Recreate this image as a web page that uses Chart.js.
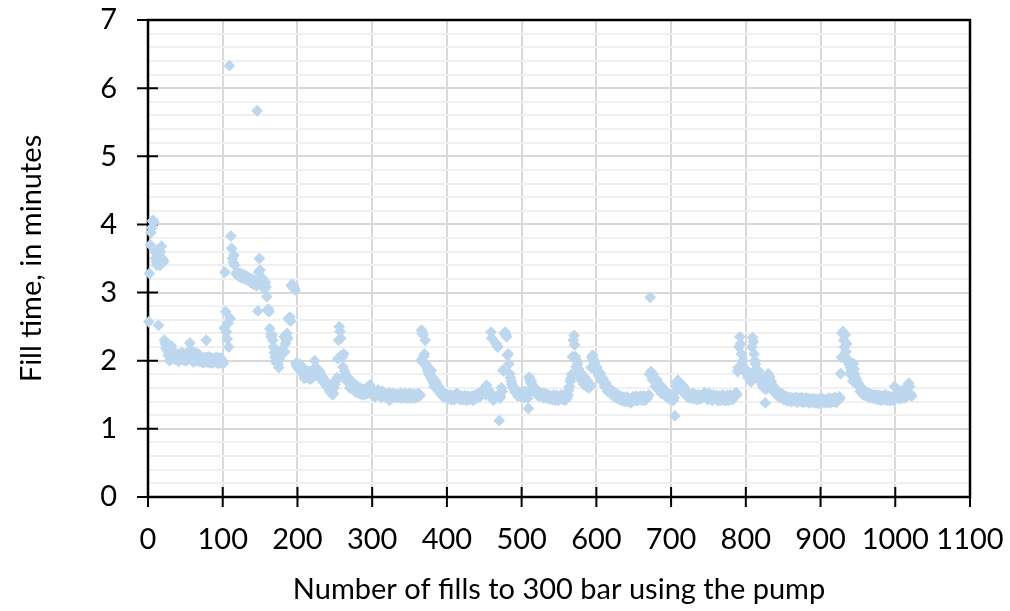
<!DOCTYPE html>
<html>
<head>
<meta charset="utf-8">
<script src="https://cdn.jsdelivr.net/npm/chart.js@4"></script>
<style>
  html, body { margin: 0; padding: 0; background: #fff; }
</style>
</head>
<body>
<canvas id="fillChart" width="1010" height="611"></canvas>
<script>
// fill number -> fill time (minutes); one line per pump session
const fills = [
  1,2,3,4,5,6,7,8,9,10,11,12,12,13,14,15,16,17,18,19,20,21,
  22,23,24,25,26,28,30,31,32,34,35,36,38,40,42,44,46,48,50,52,54,56,57,58,60,62,64,66,68,70,72,74,76,78,79,80,82,84,86,88,90,92,94,96,98,100,101,
  27,29,33,37,41,45,49,53,59,61,63,65,67,69,71,73,75,77,81,83,85,87,89,91,93,95,97,99,
  102,103,104,105,106,107,108,109,110,111,112,113,114,115,116,118,120,122,124,126,128,130,132,134,136,138,140,142,144,146,147,148,149,150,151,152,153,154,155,156,157,158,159,160,161,162,
  119,121,123,125,127,129,131,133,135,137,139,141,143,145,
  163,164,165,166,167,168,169,170,171,172,173,174,175,176,177,178,179,180,181,182,183,184,185,186,187,188,189,190,191,192,193,194,195,196,197,198,199,200,
  201,202,204,205,206,208,210,212,213,214,216,218,220,222,223,224,226,228,230,232,234,236,238,240,242,244,246,247,248,249,250,251,252,253,
  203,207,209,211,215,217,219,221,225,227,229,231,233,235,237,239,241,243,245,
  254,255,256,257,258,259,260,261,262,263,264,265,267,269,271,273,275,277,279,281,283,285,287,289,291,293,295,297,299,301,
  266,268,270,272,274,276,278,280,282,284,286,288,290,292,294,296,298,300,
  303,305,307,309,311,313,315,317,319,321,323,325,327,329,331,333,335,337,339,341,343,345,347,349,351,353,355,357,359,361,363,364,
  302,304,306,308,310,312,314,316,318,320,322,324,326,328,330,332,334,336,338,340,342,344,346,348,350,352,354,356,358,360,362,
  365,366,367,368,369,370,371,372,373,374,375,376,377,378,379,380,382,384,386,388,390,392,394,395,397,399,
  381,383,385,387,389,391,393,396,398,
  401,403,405,407,409,411,413,415,417,419,421,423,425,427,429,431,433,435,437,439,441,443,445,447,449,451,453,455,457,
  400,402,404,406,408,410,412,414,416,418,420,422,424,426,428,430,432,434,436,438,440,442,444,446,448,450,452,454,456,
  458,459,460,461,462,463,464,465,466,467,468,469,470,471,472,473,474,475,476,477,478,479,480,481,482,483,484,485,486,487,488,490,492,494,496,498,500,
  489,491,493,495,497,499,
  502,504,506,508,509,510,511,512,514,516,518,520,522,524,526,528,530,532,534,536,538,540,542,544,546,548,550,552,554,556,558,560,562,563,
  501,503,505,507,513,515,517,519,521,523,525,527,529,531,533,535,537,539,541,543,545,547,549,551,553,555,557,559,561,
  564,565,566,567,568,569,570,571,572,573,574,575,576,577,578,580,582,584,586,587,589,591,593,594,595,596,597,598,600,
  579,581,583,585,588,590,592,599,
  602,604,606,608,610,612,614,616,618,620,622,624,626,628,630,632,634,636,638,640,642,644,646,648,650,652,654,656,658,660,662,664,666,668,
  601,603,605,607,609,611,613,615,617,619,621,623,625,627,629,631,633,635,637,639,641,643,645,647,649,651,653,655,657,659,661,663,665,667,669,
  670,671,672,673,674,675,676,677,678,680,682,684,686,688,690,692,694,696,698,700,702,704,705,706,707,708,709,710,711,712,714,716,718,720,722,724,726,728,730,732,734,736,738,740,
  679,681,683,685,687,689,691,693,695,697,699,701,703,713,715,717,719,721,723,725,727,729,731,733,735,737,739,
  742,744,746,748,750,752,754,756,758,760,762,764,766,768,770,772,774,776,778,780,782,784,786,788,
  741,743,745,747,749,751,753,755,757,759,761,763,765,767,769,771,773,775,777,779,781,783,785,787,
  789,790,791,792,793,794,795,796,797,798,800,802,804,806,807,808,809,810,811,812,813,814,816,818,820,822,823,824,826,827,828,830,832,834,836,838,840,842,844,846,848,
  799,801,803,805,815,817,819,821,825,829,831,833,835,837,839,841,843,845,847,849,
  850,852,854,856,858,860,862,864,866,868,870,872,874,876,878,880,882,884,886,888,890,892,894,896,898,900,902,904,906,908,910,912,914,916,918,920,922,924,926,
  851,853,855,857,859,861,863,865,867,869,871,873,875,877,879,881,883,885,887,889,891,893,895,897,899,901,903,905,907,909,911,913,915,917,919,921,923,925,
  927,928,929,930,931,932,933,934,935,936,937,938,939,940,941,942,943,944,945,946,947,948,950,952,954,956,958,960,962,964,966,968,970,972,974,976,978,980,982,984,986,988,990,992,994,996,998,999,1000,1002,1004,1006,1008,1010,1012,1014,1016,1018,1019,1020,1021,1022,
  949,951,953,955,957,959,961,963,965,967,969,971,973,975,977,979,981,983,985,987,989,991,993,995,997,1001,1003,1005,1007,1009,1011,1013,1015,1017
];

const minutes = [
  2.57,3.28,3.7,3.88,3.95,4.05,4.06,4.03,3.6,3.5,3.45,3.4,3.62,3.55,2.52,3.45,3.4,3.6,3.68,3.5,3.48,3.45,
  2.3,2.25,2.18,2.22,2.15,2.12,2.2,2.22,2.1,2.05,2.08,2.02,2.06,2.1,2.04,2.07,2.02,2.1,2.05,2.0,2.08,2.26,2.12,2.06,2.02,2.1,2.05,2.0,2.07,2.03,1.98,2.04,2.0,2.3,2.02,1.98,2.03,2.0,1.97,2.02,2.04,1.98,1.96,2.0,1.97,2.0,1.96,
  2.08,2.0,2.14,2.1,1.99,2.12,2.0,2.12,2.14,1.98,2.12,2.08,2.1,1.99,2.06,2.02,1.97,2.05,2.06,1.97,2.04,2.0,1.98,1.99,2.05,2.02,2.04,1.99,
  2.48,3.3,2.72,2.42,2.32,2.55,2.2,6.33,2.62,3.83,3.65,3.5,3.44,3.55,3.4,3.27,3.28,3.25,3.26,3.24,3.23,3.22,3.2,3.2,3.18,3.17,3.15,3.16,3.12,5.67,2.73,3.3,3.5,3.33,3.2,3.15,3.1,3.2,3.12,3.05,3.15,3.08,2.94,2.74,2.76,2.72,
  3.3,3.24,3.29,3.22,3.27,3.2,3.25,3.18,3.22,3.15,3.2,3.12,3.18,3.1,
  2.47,2.4,2.35,2.38,2.3,2.2,2.12,2.05,1.98,2.15,2.1,1.95,1.9,2.02,2.12,2.15,2.1,2.14,2.12,2.35,2.13,2.25,2.3,2.4,2.33,2.62,2.6,2.64,2.58,3.1,3.12,3.11,3.08,3.05,3.04,1.96,1.92,1.95,
  1.9,1.88,1.85,1.92,1.82,1.8,1.78,1.76,1.85,1.8,1.73,1.78,1.82,1.87,2.0,1.9,1.85,1.82,1.84,1.78,1.75,1.72,1.67,1.64,1.6,1.58,1.55,1.5,1.52,1.6,1.65,1.7,1.72,1.75,
  1.95,1.88,1.74,1.84,1.76,1.84,1.74,1.8,1.78,1.88,1.77,1.8,1.72,1.68,1.7,1.62,1.66,1.55,1.6,
  2.03,2.3,2.5,2.43,2.33,2.08,2.05,1.91,2.1,1.85,1.8,1.76,1.72,1.68,1.65,1.64,1.62,1.6,1.58,1.6,1.56,1.55,1.52,1.55,1.58,1.6,1.62,1.64,1.55,1.52,
  1.7,1.75,1.6,1.7,1.58,1.66,1.54,1.63,1.52,1.6,1.5,1.58,1.5,1.54,1.52,1.57,1.6,1.5,
  1.5,1.53,1.55,1.5,1.48,1.52,1.5,1.47,1.49,1.52,1.42,1.48,1.5,1.46,1.49,1.47,1.5,1.47,1.45,1.48,1.5,1.47,1.49,1.46,1.48,1.5,1.47,1.45,1.49,1.47,1.48,1.5,
  1.55,1.47,1.5,1.57,1.52,1.46,1.55,1.52,1.5,1.46,1.5,1.52,1.45,1.52,1.48,1.51,1.46,1.49,1.52,1.5,1.46,1.52,1.45,1.5,1.52,1.45,1.49,1.51,1.47,1.5,1.52,
  2.0,2.45,2.42,2.38,2.06,2.1,2.3,1.95,1.9,1.85,1.88,1.8,1.82,1.76,1.86,1.72,1.68,1.65,1.66,1.6,1.57,1.53,1.5,1.47,1.48,1.46,
  1.75,1.62,1.7,1.58,1.62,1.52,1.56,1.52,1.5,
  1.45,1.48,1.46,1.47,1.45,1.48,1.52,1.49,1.47,1.46,1.45,1.47,1.45,1.46,1.44,1.46,1.45,1.42,1.46,1.48,1.47,1.5,1.52,1.55,1.58,1.6,1.64,1.58,1.55,
  1.5,1.44,1.5,1.43,1.49,1.43,1.48,1.45,1.5,1.43,1.48,1.43,1.49,1.42,1.48,1.43,1.47,1.48,1.44,1.5,1.45,1.52,1.47,1.5,1.53,1.55,1.5,1.57,1.52,
  1.5,2.42,2.33,1.45,1.42,1.48,1.47,1.45,2.25,2.22,2.2,1.5,1.12,1.45,1.48,1.6,1.55,1.86,1.85,2.4,2.42,2.38,2.35,2.08,2.1,1.95,1.81,1.75,1.7,1.66,1.62,1.58,1.56,1.52,1.5,1.49,1.53,
  1.6,1.54,1.57,1.48,1.52,1.47,
  1.5,1.48,1.52,1.45,1.3,1.76,1.72,1.68,1.65,1.6,1.58,1.57,1.55,1.52,1.5,1.52,1.5,1.48,1.5,1.47,1.49,1.46,1.48,1.45,1.47,1.44,1.46,1.48,1.45,1.47,1.42,1.44,1.5,1.57,
  1.55,1.46,1.55,1.5,1.7,1.62,1.55,1.52,1.5,1.48,1.53,1.47,1.46,1.52,1.45,1.5,1.44,1.47,1.43,1.5,1.42,1.49,1.42,1.45,1.5,1.43,1.48,1.45,1.47,
  1.62,1.7,1.74,1.8,2.06,2.3,2.37,2.23,2.06,1.91,2.0,1.95,1.88,1.83,1.8,1.76,1.72,1.68,1.65,1.62,1.64,1.66,1.9,2.05,2.08,2.02,1.98,1.95,1.86,
  1.72,1.8,1.65,1.75,1.7,1.6,1.62,1.9,
  1.83,1.8,1.76,1.72,1.68,1.65,1.62,1.58,1.57,1.55,1.52,1.5,1.49,1.47,1.48,1.46,1.45,1.43,1.44,1.42,1.45,1.43,1.38,1.42,1.44,1.46,1.43,1.45,1.47,1.44,1.46,1.44,1.47,1.45,
  1.9,1.78,1.82,1.7,1.74,1.62,1.67,1.55,1.6,1.52,1.56,1.48,1.53,1.45,1.5,1.43,1.48,1.41,1.46,1.4,1.47,1.4,1.44,1.41,1.47,1.42,1.48,1.41,1.44,1.48,1.42,1.48,1.42,1.44,1.48,
  1.5,1.8,2.93,1.84,1.78,1.72,1.8,1.75,1.7,1.67,1.64,1.62,1.6,1.57,1.55,1.53,1.5,1.48,1.47,1.45,1.44,1.46,1.19,1.55,1.62,1.68,1.71,1.7,1.66,1.62,1.6,1.58,1.55,1.53,1.5,1.52,1.48,1.5,1.47,1.49,1.47,1.45,1.48,1.46,
  1.62,1.72,1.58,1.65,1.52,1.6,1.5,1.55,1.46,1.5,1.43,1.48,1.42,1.66,1.55,1.62,1.5,1.55,1.46,1.5,1.45,1.52,1.44,1.5,1.43,1.5,1.44,
  1.5,1.52,1.48,1.45,1.5,1.47,1.44,1.48,1.46,1.47,1.43,1.46,1.44,1.47,1.45,1.42,1.46,1.44,1.47,1.45,1.43,1.46,1.48,1.5,
  1.45,1.48,1.53,1.5,1.43,1.52,1.49,1.42,1.5,1.44,1.49,1.41,1.48,1.42,1.5,1.44,1.41,1.49,1.42,1.5,1.44,1.48,1.5,1.53,
  1.84,1.9,2.2,2.35,2.25,2.1,1.95,2.0,1.86,1.9,1.82,1.8,1.78,1.75,1.69,2.2,2.34,2.28,2.1,2.0,1.95,1.88,1.8,1.75,1.7,1.65,1.62,1.6,1.38,1.58,1.75,1.81,1.76,1.7,1.62,1.58,1.55,1.52,1.5,1.48,1.52,
  1.88,1.85,1.75,1.8,1.78,1.85,1.7,1.75,1.65,1.72,1.68,1.62,1.65,1.55,1.6,1.5,1.55,1.46,1.5,1.45,
  1.47,1.45,1.48,1.44,1.42,1.46,1.44,1.43,1.45,1.42,1.44,1.43,1.41,1.44,1.42,1.45,1.41,1.43,1.4,1.44,1.42,1.4,1.43,1.39,1.42,1.4,1.43,1.41,1.39,1.42,1.4,1.43,1.41,1.44,1.4,1.42,1.44,1.42,1.45,
  1.43,1.47,1.41,1.46,1.44,1.4,1.45,1.41,1.46,1.39,1.45,1.4,1.46,1.39,1.44,1.4,1.45,1.38,1.43,1.39,1.44,1.38,1.43,1.37,1.44,1.39,1.44,1.38,1.43,1.39,1.45,1.38,1.44,1.4,1.46,1.39,1.43,1.47,
  1.81,2.05,2.4,2.43,2.3,2.2,2.38,2.13,2.25,2.02,1.98,1.95,1.81,1.9,1.85,1.92,1.7,1.96,1.88,1.81,1.75,1.72,1.64,1.62,1.6,1.57,1.55,1.54,1.52,1.5,1.5,1.48,1.49,1.47,1.48,1.46,1.47,1.45,1.47,1.46,1.44,1.45,1.47,1.44,1.46,1.43,1.45,1.62,1.48,1.5,1.46,1.48,1.5,1.52,1.54,1.5,1.48,1.67,1.62,1.52,1.5,1.48,
  1.68,1.66,1.55,1.6,1.5,1.56,1.48,1.53,1.46,1.51,1.45,1.5,1.44,1.5,1.43,1.49,1.42,1.48,1.43,1.5,1.42,1.48,1.41,1.47,1.42,1.45,1.53,1.44,1.55,1.45,1.57,1.46,1.6,1.55
];

const xTitle = 'Number of fills to 300 bar using the pump';
const yTitle = 'Fill time, in minutes';

if (fills.length !== minutes.length) {
  console.error('fills/minutes length mismatch', fills.length, minutes.length);
}

const AXIS_FONT = { family: 'Lato', size: 29 };
const isWhole = v => Math.abs(v - Math.round(v)) < 1e-6;

// keep the plot box where the padding puts it, labels may hang over the edges
function noOverhang(scale) {
  scale.paddingTop = 0;
  scale.paddingBottom = 0;
  scale.paddingLeft = 0;
  scale.paddingRight = 0;
}

// black box round the plot plus the little cross ticks on the left and bottom
const plotFrame = {
  id: 'plotFrame',
  beforeDatasetsDraw(chart) {
    const { ctx, chartArea: a, scales } = chart;
    ctx.save();
    ctx.strokeStyle = '#000';
    ctx.lineWidth = 2.5;
    ctx.strokeRect(a.left, a.top, a.right - a.left, a.bottom - a.top);
    ctx.lineWidth = 2;
    ctx.beginPath();
    scales.y.ticks.forEach(t => {
      if (!isWhole(t.value)) return;
      const py = scales.y.getPixelForValue(t.value);
      ctx.moveTo(a.left - 11, py);
      ctx.lineTo(a.left + 10, py);
    });
    scales.x.ticks.forEach(t => {
      const px = scales.x.getPixelForValue(t.value);
      ctx.moveTo(px, a.bottom - 10);
      ctx.lineTo(px, a.bottom + 10);
    });
    ctx.stroke();
    ctx.restore();
  }
};

new Chart(document.getElementById('fillChart'), {
  type: 'scatter',
  data: {
    datasets: [{
      label: yTitle,
      data: fills.map((f, i) => ({ x: f, y: minutes[i] })),
      pointStyle: 'rectRot',
      pointRadius: 5.9,
      pointBorderWidth: 0,
      pointBackgroundColor: 'rgb(189,215,238)',
      pointBorderColor: 'rgb(189,215,238)',
      clip: false
    }]
  },
  options: {
    responsive: false,
    animation: false,
    events: [],
    layout: { padding: { top: 20, right: 40, left: 0, bottom: 0 } },
    plugins: {
      legend: { display: false },
      tooltip: { enabled: false }
    },
    scales: {
      x: {
        type: 'linear',
        min: 0,
        max: 1100,
        ticks: {
          stepSize: 100,
          autoSkip: false,
          maxRotation: 0,
          color: '#000',
          font: AXIS_FONT,
          padding: 25,
          callback: v => String(v)
        },
        grid: { color: '#d9d9d9', lineWidth: 2, drawTicks: false },
        border: { display: false },
        title: {
          display: true,
          text: xTitle,
          color: '#000',
          font: AXIS_FONT,
          padding: { top: 0, bottom: 4 }
        },
        afterFit(scale) { scale.height = 114; noOverhang(scale); }
      },
      y: {
        min: 0,
        max: 7,
        ticks: {
          stepSize: 0.2,
          autoSkip: false,
          color: '#000',
          font: AXIS_FONT,
          padding: 31,
          callback: v => (isWhole(v) ? String(Math.round(v)) : '')
        },
        grid: {
          color: c => (isWhole(c.tick.value) ? '#d9d9d9' : '#f0f0f0'),
          lineWidth: 2,
          drawTicks: false
        },
        border: { display: false },
        title: {
          display: true,
          text: yTitle,
          color: '#000',
          font: AXIS_FONT,
          padding: { top: 14, bottom: 0 }
        },
        afterFit(scale) { scale.width = 148; noOverhang(scale); }
      }
    }
  },
  plugins: [plotFrame]
});
</script>
</body>
</html>
